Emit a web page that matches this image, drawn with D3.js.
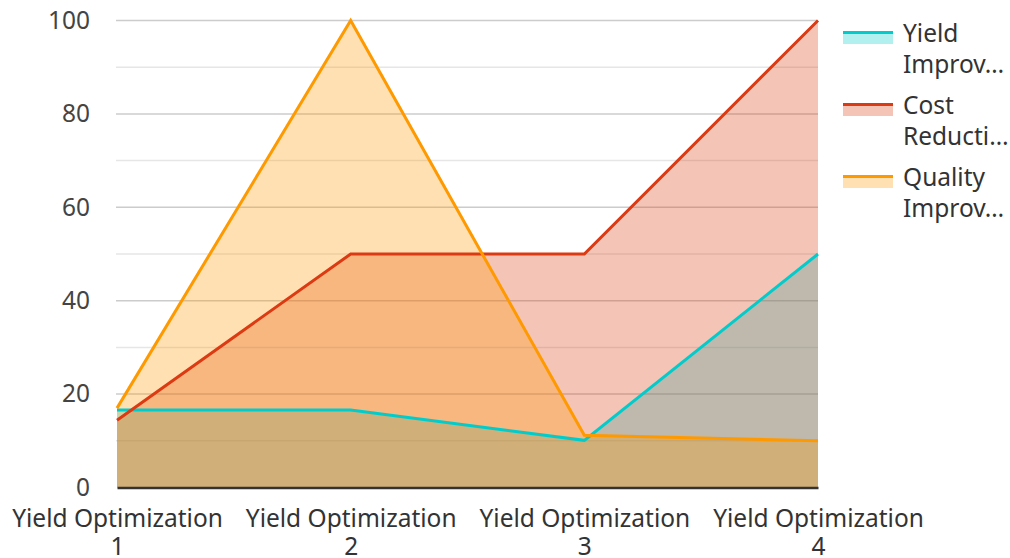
<!DOCTYPE html>
<html>
<head>
<meta charset="utf-8">
<script src="https://cdn.jsdelivr.net/npm/d3@7"></script>
<style>
  html, body { margin: 0; padding: 0; background: #fff; overflow: hidden; }
  svg { display: block; font-family: "Noto Sans", sans-serif; }
</style>
</head>
<body>
<svg id="chart" width="1010" height="558"></svg>
<script>
const categories = ["Yield Optimization 1", "Yield Optimization 2", "Yield Optimization 3", "Yield Optimization 4"];
const yieldImprovement = [16.6, 16.6, 10.1, 50];
const costReduction = [14.4, 50, 50, 100];
const qualityImprovement = [17, 100, 11.2, 10];
const seriesNames = ["Yield Improvement", "Cost Reduction", "Quality Improvement"];
const legendLines = [["Yield", "Improv…"], ["Cost", "Reducti…"], ["Quality", "Improv…"]];
const seriesColors = ["#00cccc", "#dc3a12", "#ff9900"];
const yTicks = [0, 20, 40, 60, 80, 100];
const yMinorTicks = [10, 30, 50, 70, 90];

const series = [yieldImprovement, costReduction, qualityImprovement];

const svg = d3.select("#chart");
const margin = { left: 117, right: 192, top: 20.5, bottom: 70.5 };
const W = 1010, H = 558;
const FS = 24.5;

const x = d3.scalePoint().domain(categories).range([margin.left, W - margin.right]);
const y = d3.scaleLinear().domain([0, 100]).range([H - margin.bottom, margin.top]);

// grid
const grid = svg.append("g");
grid.selectAll("line.minor").data(yMinorTicks).join("line")
  .attr("class", "minor")
  .attr("x1", margin.left - 1).attr("x2", W - margin.right)
  .attr("y1", d => y(d)).attr("y2", d => y(d))
  .attr("stroke", "#e6e6e6").attr("stroke-width", 1.5);
grid.selectAll("line.major").data(yTicks.filter(d => d > 0)).join("line")
  .attr("class", "major")
  .attr("x1", margin.left - 1).attr("x2", W - margin.right)
  .attr("y1", d => y(d)).attr("y2", d => y(d))
  .attr("stroke", "#cccccc").attr("stroke-width", 1.5);

// y axis labels
const yAxis = svg.append("g").attr("transform", `translate(${margin.left - 27},0)`)
  .call(d3.axisLeft(y).tickValues(yTicks).tickSize(0).tickPadding(0));
yAxis.select(".domain").remove();
yAxis.selectAll("text").attr("font-size", FS).attr("fill", "#444").attr("font-family", "Noto Sans");

// areas
const area = d3.area().x((d, i) => x(categories[i])).y0(y(0)).y1(d => y(d));
const line = d3.line().x((d, i) => x(categories[i])).y(d => y(d));

svg.append("g").selectAll("path").data(series).join("path")
  .attr("d", d => area(d))
  .attr("fill", (d, i) => seriesColors[i])
  .attr("fill-opacity", 0.3);

// x axis
const xAxis = svg.append("g").attr("transform", `translate(0,${y(0)})`)
  .call(d3.axisBottom(x).tickSize(0).tickPadding(0));
xAxis.select(".domain").attr("stroke", "#333").attr("stroke-width", 2.5);
xAxis.selectAll("text").remove();
xAxis.selectAll(".tick").each(function(d) {
  const parts = d.match(/^(.*) (\S+)$/);
  const t = d3.select(this).append("text")
    .attr("text-anchor", "middle").attr("fill", "#333")
    .attr("font-size", FS).attr("font-family", "Noto Sans");
  t.append("tspan").attr("x", 0).attr("y", 39.5).text(parts[1]);
  t.append("tspan").attr("x", 0).attr("y", 67.5).text(parts[2]);
});

// lines
svg.append("g").selectAll("path").data(series).join("path")
  .attr("d", d => line(d))
  .attr("fill", "none")
  .attr("stroke", (d, i) => seriesColors[i])
  .attr("stroke-width", 3)
  .attr("stroke-linejoin", "miter");

// legend
const legend = svg.append("g").attr("transform", "translate(843,31)");
const items = legend.selectAll("g").data(seriesNames).join("g")
  .attr("transform", (d, i) => `translate(0,${i * 72})`);
items.append("rect").attr("x", 0).attr("y", 0).attr("width", 50).attr("height", 13)
  .attr("fill", (d, i) => seriesColors[i]).attr("fill-opacity", 0.3);
items.append("rect").attr("x", 0).attr("y", 0).attr("width", 50).attr("height", 3)
  .attr("fill", (d, i) => seriesColors[i]);
items.each(function(d, i) {
  const t = d3.select(this).append("text").attr("fill", "#333")
    .attr("font-size", FS).attr("font-family", "Noto Sans");
  t.append("tspan").attr("x", 60).attr("y", 11).text(legendLines[i][0]);
  t.append("tspan").attr("x", 60).attr("y", 42).text(legendLines[i][1]);
  t.append("title").text(d);
});
</script>
</body>
</html>
